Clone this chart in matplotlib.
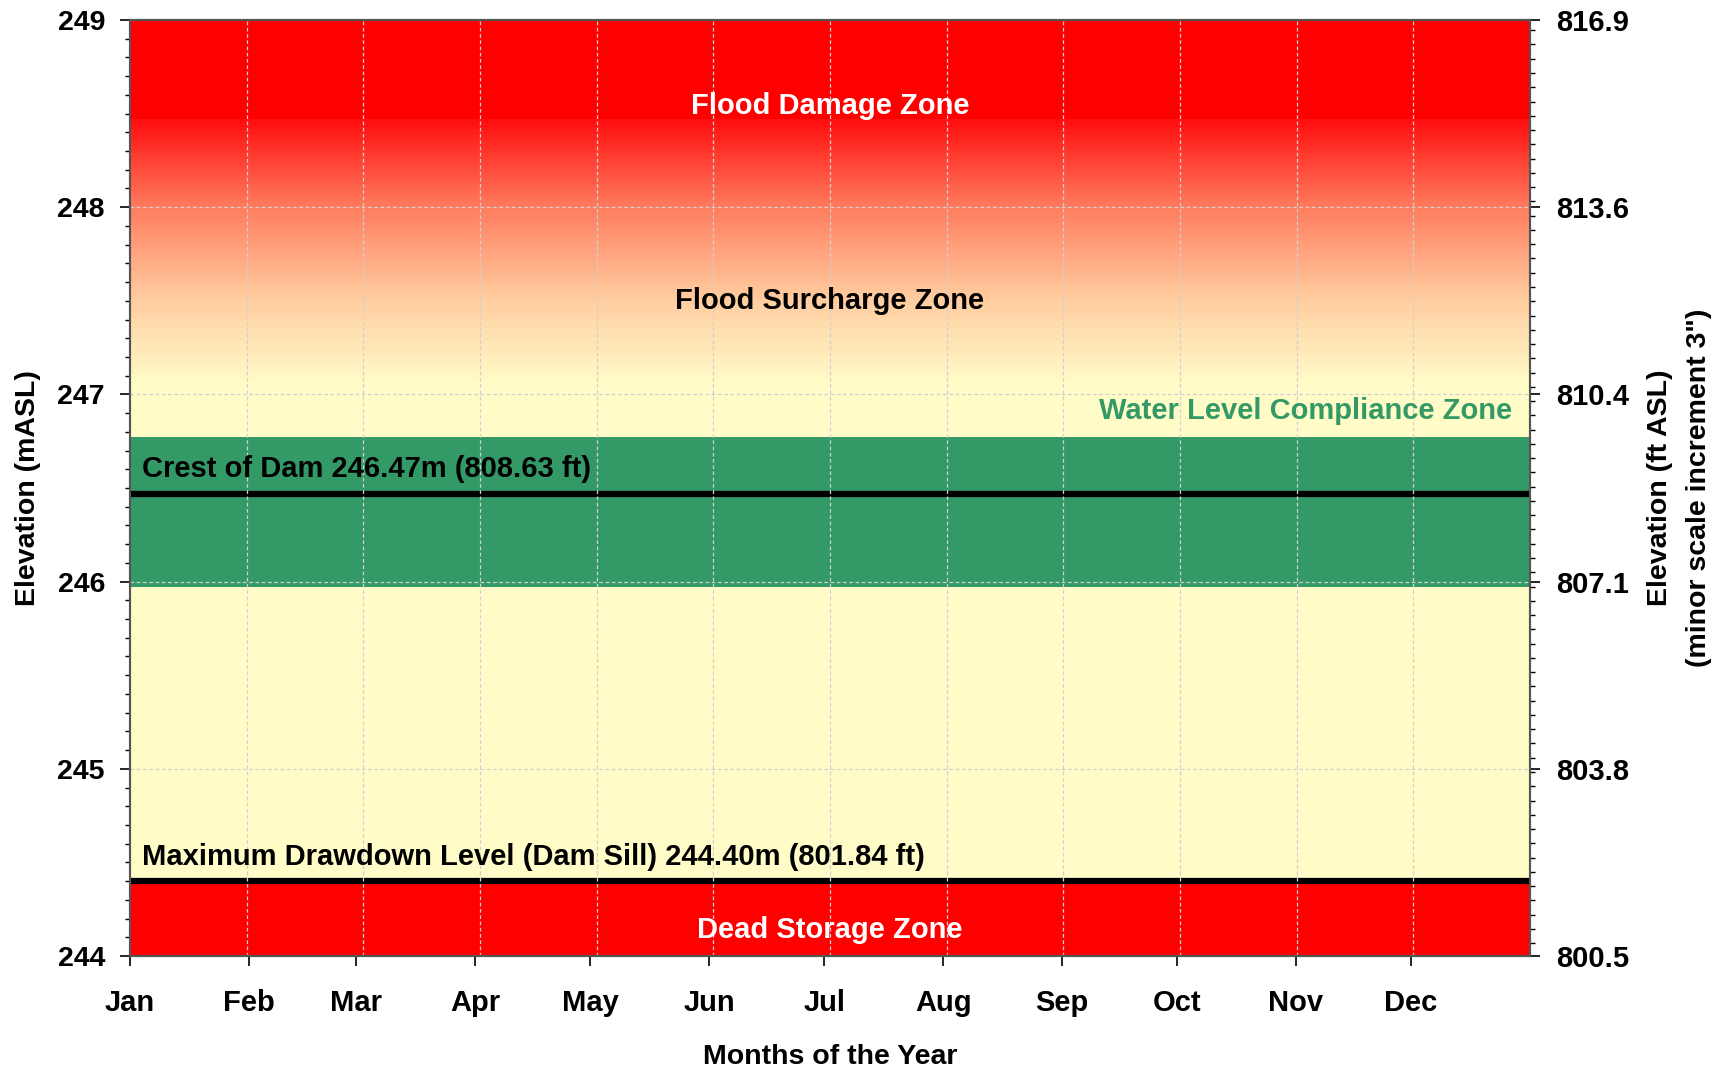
import numpy as np
import matplotlib
matplotlib.use('Agg')
import matplotlib.pyplot as plt
from matplotlib.colors import LinearSegmentedColormap
from matplotlib.ticker import MultipleLocator, FixedLocator

plt.rcParams['font.family'] = ['Liberation Sans', 'DejaVu Sans']
plt.rcParams['font.weight'] = 'bold'
plt.rcParams['axes.labelweight'] = 'bold'

# --- data ---
months = ['Jan', 'Feb', 'Mar', 'Apr', 'May', 'Jun', 'Jul', 'Aug', 'Sep', 'Oct', 'Nov', 'Dec']
month_start_day = [0, 31, 59, 90, 120, 151, 181, 212, 243, 273, 304, 334]
days_in_year = 365

y_min, y_max = 244.0, 249.0
crest_level = 246.47
crest_ft = 808.63
sill_level = 244.40
sill_ft = 801.84
compliance_low, compliance_high = 245.97, 246.77
flood_damage_level = 248.47      # solid red above this
surcharge_bottom = 247.05        # gradient fades out here
m_to_ft = 3.28084

RED = '#ff0000'
PALE = '#fffcc8'
GREEN = '#339966'

fig = plt.figure(figsize=(17.31, 10.71), dpi=100)
ax = fig.add_axes([130/1731, 1-956/1071, 1400/1731, 936/1071])

# zones
ax.axhspan(y_min, y_max, color=PALE, zorder=0, lw=0)
ax.axhspan(flood_damage_level, y_max, color=RED, zorder=1, lw=0)
ax.axhspan(y_min, sill_level, color=RED, zorder=1, lw=0)
ax.axhspan(compliance_low, compliance_high, color=GREEN, zorder=1, lw=0)

# surcharge gradient (pale at bottom -> red at top)
grad_cmap = LinearSegmentedColormap.from_list(
    'surcharge', [(0.0, PALE), (0.32, '#ffcda0'), (0.67, '#ff7d5f'), (1.0, '#ff1010')])
grad = np.linspace(0, 1, 70).reshape(-1, 1)
ax.imshow(grad, extent=[0, days_in_year, surcharge_bottom, flood_damage_level],
          origin='lower', aspect='auto', cmap=grad_cmap, interpolation='nearest', zorder=1)

# dam levels
ax.axhline(crest_level, color='black', lw=4.5, zorder=3)
ax.axhline(sill_level, color='black', lw=4.5, zorder=3)

# grid
for i in range(1, 12):
    ax.axvline(i * days_in_year / 12, color='#d0d0d0', lw=0.9, ls=(0, (3, 2)), zorder=4)
for yv in range(245, 249):
    ax.axhline(yv, color='#d0d0d0', lw=0.9, ls=(0, (3, 2)), zorder=4)

ax.set_xlim(0, days_in_year)
ax.set_ylim(y_min, y_max)

# labels inside chart
mid = days_in_year / 2
fs = 21
ax.text(mid, 248.54, 'Flood Damage Zone', color='white', fontsize=fs, ha='center', va='center', zorder=5)
ax.text(mid, 247.50, 'Flood Surcharge Zone', color='black', fontsize=fs, ha='center', va='center', zorder=5)
ax.text(360.3, 246.91, 'Water Level Compliance Zone', color=GREEN, fontsize=fs, ha='right', va='center', zorder=5)
ax.text(3.0, 246.60, f'Crest of Dam {crest_level:.2f}m ({crest_ft:.2f} ft)', color='black',
        fontsize=fs, ha='left', va='center', zorder=5)
ax.text(3.0, 244.53, f'Maximum Drawdown Level (Dam Sill) {sill_level:.2f}m ({sill_ft:.2f} ft)',
        color='black', fontsize=fs, ha='left', va='center', zorder=5)
ax.text(mid, 244.14, 'Dead Storage Zone', color='white', fontsize=fs, ha='center', va='center', zorder=5)

# axes formatting
ax.set_xticks(month_start_day)
ax.set_xticklabels(months)
ax.yaxis.set_major_locator(MultipleLocator(1))
ax.yaxis.set_minor_locator(MultipleLocator(0.1))
ax.tick_params(axis='x', which='major', length=7, width=1.2, pad=17, labelsize=21)
ax.tick_params(axis='y', which='major', length=7, width=1.2, pad=11, labelsize=20.5)
ax.tick_params(axis='y', which='minor', length=3.5, width=1.0)
ax.set_xlabel('Months of the Year', fontsize=20.5, labelpad=19)
ax.set_ylabel('Elevation (mASL)', fontsize=20.5, labelpad=12)

for sp in ax.spines.values():
    sp.set_color('#555555')
    sp.set_linewidth(1.5)
    sp.set_zorder(6)

# right axis in feet
ax2 = ax.twinx()
ax2.set_ylim(y_min * m_to_ft, y_max * m_to_ft)
ax2.yaxis.set_major_locator(FixedLocator([v * m_to_ft for v in range(244, 250)]))
ax2.yaxis.set_major_formatter(plt.FuncFormatter(lambda v, p: f'{v:.1f}'))
ax2.yaxis.set_minor_locator(MultipleLocator(0.25))
ax2.tick_params(axis='y', which='major', length=7, width=1.2, pad=11.5, labelsize=21)
ax2.tick_params(axis='y', which='minor', length=3.5, width=1.0)
ax2.set_ylabel('Elevation (ft ASL)\n(minor scale increment 3")', fontsize=20.5, labelpad=13,
               linespacing=1.65)
for sp in ax2.spines.values():
    sp.set_color('#555555')
    sp.set_linewidth(1.5)

fig.savefig('out.png', dpi=100)
